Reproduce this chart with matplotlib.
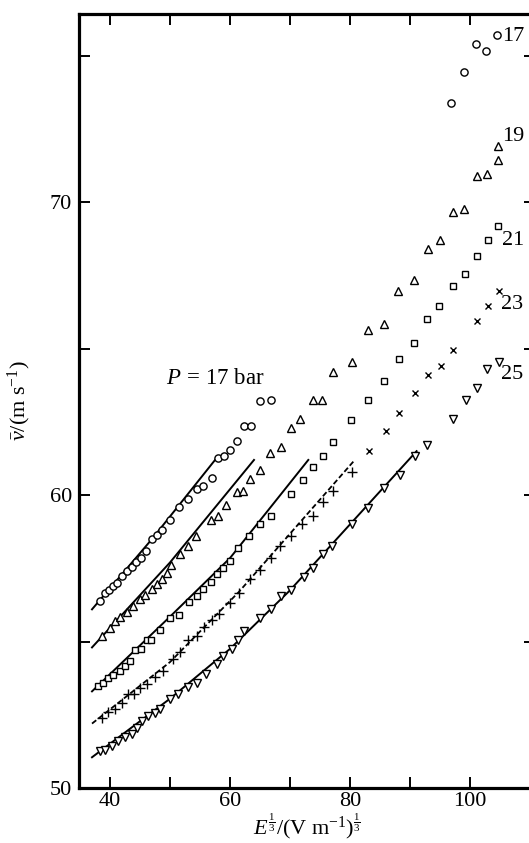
import numpy as np
import matplotlib
matplotlib.use("Agg")
import matplotlib.pyplot as plt

plt.rcParams['font.family'] = ['Liberation Serif', 'DejaVu Serif']
plt.rcParams['mathtext.fontset'] = 'custom'
plt.rcParams['mathtext.rm'] = 'Liberation Serif'
plt.rcParams['mathtext.it'] = 'Liberation Serif:italic'
plt.rcParams['mathtext.bf'] = 'Liberation Serif:bold'

# drift velocity vs cube root of field, one series per pressure (bar)
x17 = [38.3, 39.2, 39.9, 40.55, 41.1, 41.95, 42.8, 43.6, 44.4, 45.1, 46.0, 46.95, 47.8,
       48.6, 50.0, 51.55, 53.05, 54.45, 55.55, 56.95, 58.05, 59.0, 60.0, 61.2,
       62.3, 63.55, 65.0, 66.8, 96.8, 99.0, 100.95, 102.7, 104.55]
y17 = [56.4, 56.65, 56.75, 56.9, 57.0, 57.25, 57.4, 57.55, 57.7, 57.85, 58.1, 58.5, 58.65,
       58.8, 59.15, 59.6, 59.85, 60.2, 60.3, 60.6, 61.25, 61.35, 61.55, 61.85,
       62.35, 62.35, 63.2, 63.25, 73.4, 74.45, 75.4, 75.15, 75.7]

x19 = [38.6, 40.0, 40.85, 41.7, 42.8, 43.9, 45.0, 45.85, 46.95, 47.8, 48.6, 49.55, 50.1,
       51.7, 53.0, 54.3, 56.9, 58.05, 59.4, 61.1, 62.25, 63.3, 65.05, 66.7, 68.5,
       70.15, 71.7, 73.8, 75.4, 77.1, 80.3, 83.05, 85.7, 88.0, 90.7, 92.95, 95.0,
       97.2, 99.05, 101.1, 102.9, 104.7, 104.7]
y19 = [55.2, 55.45, 55.7, 55.85, 56.0, 56.2, 56.45, 56.6, 56.8, 56.95, 57.15, 57.35, 57.6,
       58.0, 58.25, 58.6, 59.15, 59.3, 59.65, 60.1, 60.15, 60.55, 60.85, 61.45, 61.65,
       62.3, 62.6, 63.25, 63.25, 64.2, 64.55, 65.65, 65.85, 66.95, 67.35, 68.4, 68.7,
       69.65, 69.75, 70.9, 70.95, 71.45, 71.9]

x21 = [38.05, 38.9, 39.7, 40.55, 41.7, 42.5, 43.35, 44.15, 45.15, 46.1, 46.85, 48.35,
       50.0, 51.55, 53.1, 54.45, 55.55, 56.8, 57.8, 58.9, 60.0, 61.3, 63.2, 65.05, 66.8,
       70.2, 72.1, 73.9, 75.55, 77.1, 80.2, 82.95, 85.65, 88.15, 90.7, 92.8, 94.9,
       97.2, 99.2, 101.2, 102.95, 104.7]
y21 = [53.5, 53.6, 53.75, 53.85, 54.0, 54.15, 54.35, 54.7, 54.75, 55.05, 55.05, 55.4,
       55.8, 55.9, 56.35, 56.55, 56.8, 57.05, 57.3, 57.5, 57.75, 58.2, 58.6, 59.0, 59.3,
       60.05, 60.5, 60.95, 61.35, 61.8, 62.55, 63.25, 63.9, 64.65, 65.2, 66.0, 66.45,
       67.15, 67.55, 68.15, 68.7, 69.2]

# 23 bar: crosses on the fitted line, diagonal crosses beyond it
x23_fit = [38.6, 39.7, 40.85, 41.95, 43.05, 44.05, 45.0, 46.1, 47.5, 48.9, 50.55, 51.7,
           53.05, 54.45, 55.7, 56.95, 58.2, 60.0, 61.55, 63.3, 65.0, 66.8, 68.4, 70.2,
           72.0, 73.85, 75.55, 77.1, 80.35]
y23_fit = [52.4, 52.6, 52.7, 52.9, 53.2, 53.2, 53.4, 53.55, 53.8, 54.0, 54.4, 54.65,
           55.05, 55.2, 55.5, 55.75, 55.95, 56.3, 56.65, 57.15, 57.45, 57.85, 58.25, 58.6,
           59.0, 59.3, 59.75, 60.15, 60.8]
x23_hi = [83.15, 85.95, 88.25, 90.85, 93.05, 95.15, 97.25, 101.1, 103.0, 104.8]
y23_hi = [61.5, 62.2, 62.8, 63.5, 64.1, 64.4, 64.95, 65.95, 66.45, 66.95]

x25 = [38.35, 39.15, 40.3, 41.4, 42.5, 43.6, 44.45, 45.3, 46.4, 47.5, 48.35, 50.0, 51.4,
       53.05, 54.45, 56.0, 57.8, 58.9, 60.3, 61.3, 62.35, 65.0, 66.8, 68.45, 70.1, 72.35,
       73.8, 75.55, 76.95, 80.3, 82.95, 85.65, 88.35, 90.85, 92.9, 97.2, 99.3, 101.1,
       102.9, 104.85]
y25 = [51.25, 51.3, 51.45, 51.6, 51.75, 51.85, 52.05, 52.3, 52.45, 52.55, 52.7, 53.05, 53.2,
       53.45, 53.6, 53.9, 54.25, 54.5, 54.75, 55.05, 55.35, 55.8, 56.1, 56.55, 56.75, 57.2,
       57.5, 58.0, 58.25, 59.0, 59.55, 60.25, 60.7, 61.35, 61.7, 62.6, 63.25, 63.65,
       64.3, 64.55]

# fitted curves (nodes)
fit17_x = [37.0, 47.0, 57.9]
fit17_y = [56.1, 58.5, 61.3]
fit19_x = [37.0, 50.0, 64.0]
fit19_y = [54.8, 57.7, 61.2]
fit21_x = [37.0, 50.0, 60.0, 73.05]
fit21_y = [53.3, 55.85, 57.85, 61.2]
fit23_x = [37.0, 50.0, 61.5, 80.8]
fit23_y = [52.2, 54.3, 56.7, 61.2]
fit25_x = [37.0, 50.0, 60.0, 70.0, 80.0, 91.1]
fit25_y = [51.05, 53.05, 54.75, 56.75, 59.0, 61.5]

pressures = ['17', '19', '21', '23', '25']

fig = plt.figure(figsize=(5.29, 8.43), dpi=100)
ax = fig.add_axes([0.1493, 0.0652, 0.862, 0.9181])

line_kw = dict(color='black', lw=1.4, zorder=2)
ax.plot(fit17_x, fit17_y, **line_kw)
ax.plot(fit19_x, fit19_y, **line_kw)
ax.plot(fit21_x, fit21_y, **line_kw)
ax.plot(fit23_x, fit23_y, color='black', lw=1.3, ls=(0, (3, 1.5)), zorder=2)
ax.plot(fit25_x, fit25_y, **line_kw)

mk = dict(ls='none', mfc='white', mec='black', mew=1.0, zorder=3)
ax.plot(x17, y17, marker='o', ms=5.2, **mk)
ax.plot(x19, y19, marker='^', ms=5.6, **mk)
ax.plot(x21, y21, marker='s', ms=4.8, **mk)
ax.plot(x23_fit, y23_fit, marker='+', ms=6.5, **mk)
ax.plot(x23_hi, y23_hi, marker='x', ms=4.2, **mk)
ax.plot(x25, y25, marker='v', ms=5.6, **mk)

# pressure labels at the end of each series
label_pos = [(105.3, 75.65), (105.3, 72.25), (105.3, 68.7), (105.2, 66.5), (105.2, 64.1)]
for p, (lx, ly) in zip(pressures, label_pos):
    ax.text(lx, ly, p, fontsize=16, ha='left', va='center')

ax.text(49.3, 63.8, r'$P\,{=}\,$17 bar', fontsize=16.5, ha='left', va='baseline')

ax.set_xlim(34.83, 110.83)
ax.set_ylim(50, 76.42)
ax.set_xticks([40, 50, 60, 70, 80, 90, 100])
ax.set_xticklabels(['40', '', '60', '', '80', '', '100'])
ax.set_yticks([50, 55, 60, 65, 70, 75])
ax.set_yticklabels(['50', '', '60', '', '70', ''])
ax.tick_params(direction='in', length=8, width=1.4, top=True, right=True,
               labelsize=16)
ax.tick_params(axis='x', pad=3)
ax.tick_params(axis='y', pad=5)
for s in ax.spines.values():
    s.set_linewidth(2.3)

ax.set_xlabel(r'$E^{\frac{1}{3}}/(\mathrm{V\ m^{-1}})^{\frac{1}{3}}$', fontsize=16, labelpad=0)
ax.set_ylabel(r'$\bar{v}/(\mathrm{m\ s^{-1}})$', fontsize=16, labelpad=12)

fig.savefig('out.png', dpi=100)
